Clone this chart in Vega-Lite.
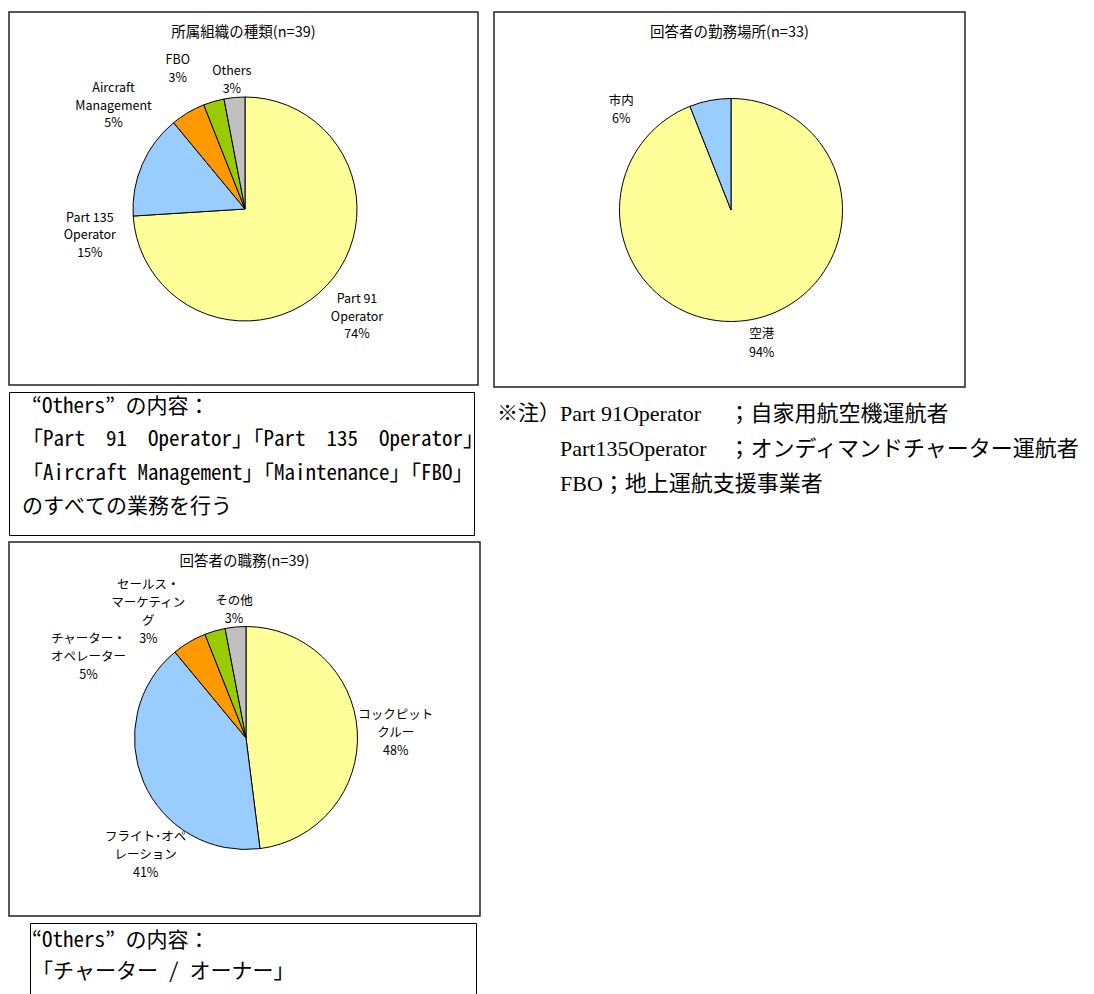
{
  "$schema": "https://vega.github.io/schema/vega-lite/v6.json",
  "padding": {"left": 8, "top": 11, "right": 0, "bottom": 0},
  "background": "white",
  "config": {
    "font": "Noto Sans CJK JP",
    "view": {"stroke": "#222222", "strokeWidth": 1.5},
    "axis": {"grid": false},
    "title": {"fontSize": 14.5, "fontWeight": "normal", "color": "#000000", "font": "Noto Sans CJK JP"}
  },
  "datasets": {
    "org": [
      {"cat": "Part 91 Operator", "pct": 74, "label": "Part 91\nOperator\n74%"},
      {"cat": "Part 135 Operator", "pct": 15, "label": "Part 135\nOperator\n15%"},
      {"cat": "Aircraft Management", "pct": 5, "label": "Aircraft\nManagement\n5%"},
      {"cat": "FBO", "pct": 3, "label": "FBO\n3%"},
      {"cat": "Others", "pct": 3, "label": "Others\n3%"}
    ],
    "place": [
      {"cat": "空港", "pct": 94, "label": "空港\n94%"},
      {"cat": "市内", "pct": 6, "label": "市内\n6%"}
    ],
    "role": [
      {"cat": "コックピットクルー", "pct": 48, "label": "コックピット\nクルー\n48%"},
      {"cat": "フライト・オペレーション", "pct": 41, "label": "フライト･オペ\nレーション\n41%"},
      {"cat": "チャーター・オペレーター", "pct": 5, "label": "チャーター・\nオペレーター\n5%"},
      {"cat": "セールス・マーケティング", "pct": 3, "label": "セールス・\nマーケティン\nグ\n3%"},
      {"cat": "その他", "pct": 3, "label": "その他\n3%"}
    ],
    "tb1": [
      {"line": 1, "text": "“Others” の内容："},
      {"line": 2, "text": "「Part　91　Operator」「Part　135　Operator」"},
      {"line": 3, "text": "「Aircraft Management」「Maintenance」「FBO」"},
      {"line": 4, "text": "のすべての業務を行う"}
    ],
    "tb2": [
      {"line": 1, "text": "“Others” の内容："},
      {"line": 2, "text": "「チャーター / オーナー」"}
    ],
    "note": [
      {"line": 1, "prefix": "※注）", "text": "Part 91Operator　 ；自家用航空機運航者"},
      {"line": 2, "prefix": "", "text": "Part135Operator　；オンディマンドチャーター運航者"},
      {"line": 3, "prefix": "", "text": "FBO；地上運航支援事業者"}
    ]
  },
  "resolve": {"scale": {"color": "independent", "theta": "independent", "x": "independent", "y": "independent"}},
  "spacing": 8,
  "hconcat": [
    {
      "spacing": 7,
      "bounds": "flush",
      "resolve": {"scale": {"color": "independent", "theta": "independent", "x": "independent", "y": "independent"}},
      "vconcat": [
        {
          "width": 469, "height": 373,
          "view": {"stroke": "#222222", "strokeWidth": 1.5},
          "title": {"text": "所属組織の種類(n=39)", "offset": -35, "baseline": "middle"},
          "data": {"name": "org"},
          "layer": [
            {
              "mark": {"type": "arc", "outerRadius": 112, "stroke": "#000000", "strokeWidth": 1, "xOffset": 1.5, "yOffset": 10.5},
              "encoding": {
                "theta": {"field": "pct", "type": "quantitative", "stack": true},
                "order": {"field": "pct", "sort": "descending"},
                "color": {"field": "cat", "type": "nominal", "legend": null,
                  "scale": {"domain": ["Part 91 Operator", "Part 135 Operator", "Aircraft Management", "FBO", "Others"],
                            "range": ["#FFFF99", "#99CCFF", "#FF9900", "#99CC00", "#C0C0C0"]}}
              }
            },
            {"mark": {"type": "text", "radius": 155, "dx": -1, "dy": -16, "xOffset": 1.5, "yOffset": 10.5, "lineBreak": "\n", "lineHeight": 17.5, "fontSize": 12.5},
             "encoding": {"theta": {"field": "pct", "type": "quantitative", "stack": true}, "order": {"field": "pct", "sort": "descending"}, "detail": {"field": "cat"},
               "text": {"condition": {"test": "datum.cat === 'Part 91 Operator'", "field": "label"}, "value": ""}}},
            {"mark": {"type": "text", "radius": 156, "dx": -12, "dy": 70.5, "xOffset": 1.5, "yOffset": 10.5, "lineBreak": "\n", "lineHeight": 17.5, "fontSize": 12.5},
             "encoding": {"theta": {"field": "pct", "type": "quantitative", "stack": true}, "order": {"field": "pct", "sort": "descending"}, "detail": {"field": "cat"},
               "text": {"condition": {"test": "datum.cat === 'Part 135 Operator'", "field": "label"}, "value": ""}}},
            {"mark": {"type": "text", "radius": 166, "dx": -47, "dy": 22, "xOffset": 1.5, "yOffset": 10.5, "lineBreak": "\n", "lineHeight": 17.5, "fontSize": 12.5},
             "encoding": {"theta": {"field": "pct", "type": "quantitative", "stack": true}, "order": {"field": "pct", "sort": "descending"}, "detail": {"field": "cat"},
               "text": {"condition": {"test": "datum.cat === 'Aircraft Management'", "field": "label"}, "value": ""}}},
            {"mark": {"type": "text", "radius": 155, "dx": -24, "dy": 0, "xOffset": 1.5, "yOffset": 10.5, "lineBreak": "\n", "lineHeight": 17.5, "fontSize": 12.5},
             "encoding": {"theta": {"field": "pct", "type": "quantitative", "stack": true}, "order": {"field": "pct", "sort": "descending"}, "detail": {"field": "cat"},
               "text": {"condition": {"test": "datum.cat === 'FBO'", "field": "label"}, "value": ""}}},
            {"mark": {"type": "text", "radius": 129, "dx": -1, "dy": -9.5, "xOffset": 1.5, "yOffset": 10.5, "lineBreak": "\n", "lineHeight": 17.5, "fontSize": 12.5},
             "encoding": {"theta": {"field": "pct", "type": "quantitative", "stack": true}, "order": {"field": "pct", "sort": "descending"}, "detail": {"field": "cat"},
               "text": {"condition": {"test": "datum.cat === 'Others'", "field": "label"}, "value": ""}}}
          ]
        },
        {
          "width": 465, "height": 143,
          "view": {"stroke": "#000000", "strokeWidth": 1},
          "data": {"name": "tb1"},
          "encoding": {
            "x": {"datum": 0, "type": "quantitative", "scale": {"domain": [0, 1], "nice": false}, "axis": null},
            "y": {"field": "line", "type": "quantitative", "scale": {"domain": [0.55, 4.84], "nice": false, "zero": false, "reverse": true}, "axis": null},
            "text": {"field": "text"}
          },
          "layer": [
            {"transform": [{"filter": "datum.line === 1"}],
             "mark": {"type": "text", "align": "left", "baseline": "middle", "fontSize": 21, "font": "Noto Sans Mono CJK JP, Liberation Serif, Noto Sans CJK JP", "dx": 23}},
            {"transform": [{"filter": "datum.line !== 1"}],
             "mark": {"type": "text", "align": "left", "baseline": "middle", "fontSize": 21, "font": "Noto Sans Mono CJK JP, Liberation Serif, Noto Sans CJK JP", "dx": 13}}
          ]
        },
        {
          "width": 471, "height": 374,
          "view": {"stroke": "#222222", "strokeWidth": 1.5},
          "title": {"text": "回答者の職務(n=39)", "offset": -34, "baseline": "middle"},
          "data": {"name": "role"},
          "layer": [
            {
              "mark": {"type": "arc", "outerRadius": 111.5, "stroke": "#000000", "strokeWidth": 1, "xOffset": 1.5, "yOffset": 9},
              "encoding": {
                "theta": {"field": "pct", "type": "quantitative", "stack": true},
                "order": {"field": "pct", "sort": "descending"},
                "color": {"field": "cat", "type": "nominal", "legend": null,
                  "scale": {"domain": ["コックピットクルー", "フライト・オペレーション", "チャーター・オペレーター", "セールス・マーケティング", "その他"],
                            "range": ["#FFFF99", "#99CCFF", "#FF9900", "#99CC00", "#C0C0C0"]}}
              }
            },
            {"mark": {"type": "text", "radius": 151, "dx": -1, "dy": -14, "xOffset": 1.5, "yOffset": 9, "lineBreak": "\n", "lineHeight": 18, "fontSize": 12.5},
             "encoding": {"theta": {"field": "pct", "type": "quantitative", "stack": true}, "order": {"field": "pct", "sort": "descending"}, "detail": {"field": "cat"},
               "text": {"condition": {"test": "datum.cat === 'コックピットクルー'", "field": "label"}, "value": ""}}},
            {"mark": {"type": "text", "radius": 154, "dx": 41, "dy": 38, "xOffset": 1.5, "yOffset": 9, "lineBreak": "\n", "lineHeight": 18, "fontSize": 12.5},
             "encoding": {"theta": {"field": "pct", "type": "quantitative", "stack": true}, "order": {"field": "pct", "sort": "descending"}, "detail": {"field": "cat"},
               "text": {"condition": {"test": "datum.cat === 'フライト・オペレーション'", "field": "label"}, "value": ""}}},
            {"mark": {"type": "text", "radius": 176, "dx": -68, "dy": 52, "xOffset": 1.5, "yOffset": 9, "lineBreak": "\n", "lineHeight": 18, "fontSize": 12.5},
             "encoding": {"theta": {"field": "pct", "type": "quantitative", "stack": true}, "order": {"field": "pct", "sort": "descending"}, "detail": {"field": "cat"},
               "text": {"condition": {"test": "datum.cat === 'チャーター・オペレーター'", "field": "label"}, "value": ""}}},
            {"mark": {"type": "text", "radius": 160, "dx": -53, "dy": 1, "xOffset": 1.5, "yOffset": 9, "lineBreak": "\n", "lineHeight": 18, "fontSize": 12.5},
             "encoding": {"theta": {"field": "pct", "type": "quantitative", "stack": true}, "order": {"field": "pct", "sort": "descending"}, "detail": {"field": "cat"},
               "text": {"condition": {"test": "datum.cat === 'セールス・マーケティング'", "field": "label"}, "value": ""}}},
            {"mark": {"type": "text", "radius": 128, "dx": 0, "dy": -10, "xOffset": 1.5, "yOffset": 9, "lineBreak": "\n", "lineHeight": 18, "fontSize": 12.5},
             "encoding": {"theta": {"field": "pct", "type": "quantitative", "stack": true}, "order": {"field": "pct", "sort": "descending"}, "detail": {"field": "cat"},
               "text": {"condition": {"test": "datum.cat === 'その他'", "field": "label"}, "value": ""}}}
          ]
        },
        {
          "spacing": 14,
          "bounds": "flush",
          "hconcat": [
            {
              "width": 7, "height": 10,
              "view": {"stroke": null},
              "data": {"values": [{}]},
              "mark": {"type": "text"},
              "encoding": {"text": {"value": ""}}
            },
            {
              "width": 446, "height": 80,
              "view": {"stroke": "#000000", "strokeWidth": 1},
              "data": {"name": "tb2"},
              "mark": {"type": "text", "align": "left", "baseline": "middle", "fontSize": 21, "font": "Noto Sans Mono CJK JP, Liberation Serif, Noto Sans CJK JP", "dx": 2},
              "encoding": {
                "x": {"datum": 0, "type": "quantitative", "scale": {"domain": [0, 1], "nice": false}, "axis": null},
                "y": {"field": "line", "type": "quantitative", "scale": {"domain": [0.419, 2.999], "nice": false, "zero": false, "reverse": true}, "axis": null},
                "text": {"field": "text"}
              }
            }
          ]
        }
      ]
    },
    {
      "spacing": 7,
      "bounds": "flush",
      "resolve": {"scale": {"color": "independent", "theta": "independent", "x": "independent", "y": "independent"}},
      "vconcat": [
        {
          "width": 471, "height": 375,
          "view": {"stroke": "#222222", "strokeWidth": 1.5},
          "title": {"text": "回答者の勤務場所(n=33)", "offset": -35, "baseline": "middle"},
          "data": {"name": "place"},
          "layer": [
            {
              "mark": {"type": "arc", "outerRadius": 111.5, "stroke": "#000000", "strokeWidth": 1, "xOffset": 1.5, "yOffset": 10.5},
              "encoding": {
                "theta": {"field": "pct", "type": "quantitative", "stack": true},
                "order": {"field": "pct", "sort": "descending"},
                "color": {"field": "cat", "type": "nominal", "legend": null,
                  "scale": {"domain": ["空港", "市内"], "range": ["#FFFF99", "#99CCFF"]}}
              }
            },
            {"mark": {"type": "text", "radius": 137, "dx": 5, "dy": -10.5, "xOffset": 1.5, "yOffset": 10.5, "lineBreak": "\n", "lineHeight": 18.5, "fontSize": 12.5},
             "encoding": {"theta": {"field": "pct", "type": "quantitative", "stack": true}, "order": {"field": "pct", "sort": "descending"}, "detail": {"field": "cat"},
               "text": {"condition": {"test": "datum.cat === '空港'", "field": "label"}, "value": ""}}},
            {"mark": {"type": "text", "radius": 148, "dx": -82, "dy": 36, "xOffset": 1.5, "yOffset": 10.5, "lineBreak": "\n", "lineHeight": 18.5, "fontSize": 12.5},
             "encoding": {"theta": {"field": "pct", "type": "quantitative", "stack": true}, "order": {"field": "pct", "sort": "descending"}, "detail": {"field": "cat"},
               "text": {"condition": {"test": "datum.cat === '市内'", "field": "label"}, "value": ""}}}
          ]
        },
        {
          "width": 600, "height": 130,
          "view": {"stroke": null},
          "data": {"name": "note"},
          "encoding": {
            "x": {"datum": 0, "type": "quantitative", "scale": {"domain": [0, 1], "nice": false}, "axis": null},
            "y": {"field": "line", "type": "quantitative", "scale": {"domain": [0.4286, 4.143], "nice": false, "zero": false, "reverse": true}, "axis": null}
          },
          "layer": [
            {"mark": {"type": "text", "align": "left", "baseline": "middle", "fontSize": 21, "font": "Liberation Serif, Noto Sans CJK JP", "dx": 3},
             "encoding": {"text": {"field": "prefix"}}},
            {"mark": {"type": "text", "align": "left", "baseline": "middle", "fontSize": 22, "font": "Liberation Serif, Noto Sans CJK JP", "dx": 66},
             "encoding": {"text": {"field": "text"}}}
          ]
        }
      ]
    }
  ]
}
